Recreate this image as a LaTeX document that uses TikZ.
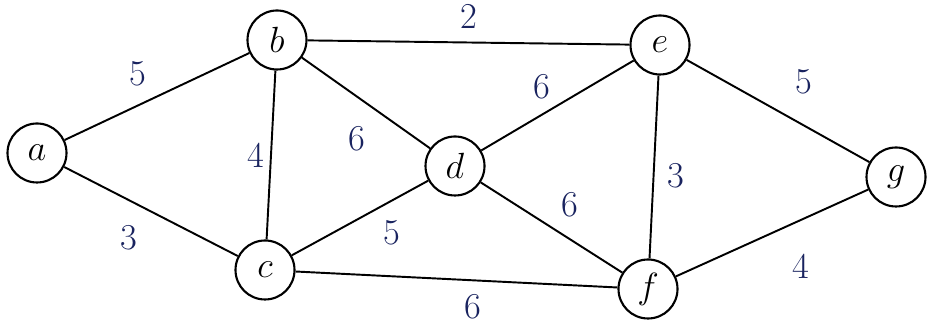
\documentclass[tikz,border=0pt]{standalone}
\usepackage{tikz}
\definecolor{tinta}{RGB}{25,35,95}
\tikzset{
  vertice/.style={draw, circle, line width=1.2pt, minimum size=1.18cm, inner sep=0pt, font=\huge},
  arista/.style={line width=1.1pt},
  peso/.style={text=tinta, font=\huge}
}
\begin{document}
\begin{tikzpicture}
            \useasboundingbox[fill=white] (0,0) rectangle (18.68,6.62);
            % Vértices del grafo
            \node[vertice] (a) at (0.74, 3.56) {$a$};
            \node[vertice] (b) at (5.54, 5.82) {$b$};
            \node[vertice] (e) at (13.2, 5.72) {$e$};
            \node[vertice] (d) at (9.1, 3.3) {$d$};
            \node[vertice] (g) at (17.92, 3.08) {$g$};
            \node[vertice] (c) at (5.3, 1.22) {$c$};
            \node[vertice] (f) at (12.96, 0.84) {$f$};

            % Aristas con sus pesos
            \draw[arista] (a) -- (b) node[peso, midway, above left=2pt] {5};
            \draw[arista] (a) -- (c) node[peso, midway, below left=4pt] {3};
            \draw[arista] (b) -- (e) node[peso, midway, above=4pt] {2};
            \draw[arista] (b) -- (c) node[peso, midway, left=0pt] {4};
            \draw[arista] (b) -- (d) node[peso, pos=0.6, below left=4pt] {6};
            \draw[arista] (d) -- (e) node[peso, midway, above left=0pt] {6};
            \draw[arista] (c) -- (d) node[peso, pos=0.6, below right=2pt] {5};
            \draw[arista] (d) -- (f) node[peso, pos=0.5, above right=2pt] {6};
            \draw[arista] (e) -- (f) node[peso, pos=0.55, right=4pt] {3};
            \draw[arista] (e) -- (g) node[peso, midway, above right=6pt] {5};
            \draw[arista] (c) -- (f) node[peso, pos=0.55, below=4pt] {6};
            \draw[arista] (f) -- (g) node[peso, midway, below right=8pt] {4};
        \end{tikzpicture}
\end{document}
